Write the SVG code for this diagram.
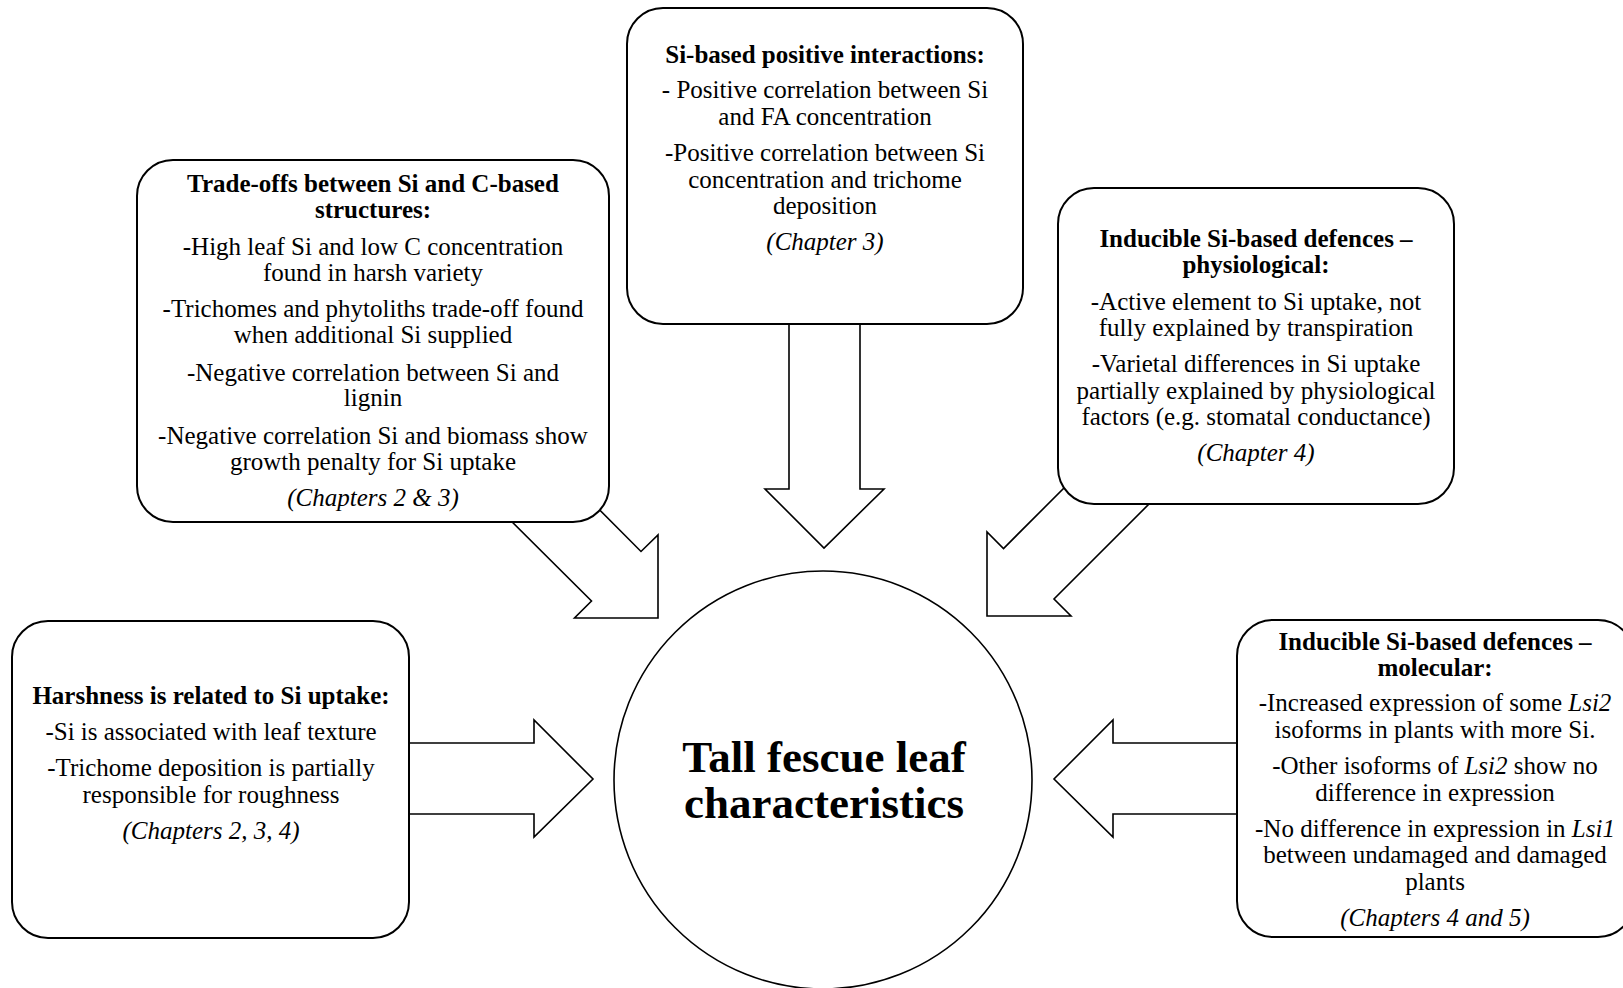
<svg xmlns="http://www.w3.org/2000/svg" width="1623" height="988" viewBox="0 0 1623 988">
<style>
.bg{fill:#fff}
.box{fill:#fff;stroke:#000;stroke-width:2}
.arr{fill:#fff;stroke:#000;stroke-width:1.6;stroke-linejoin:miter}
.circ{fill:#fff;stroke:#000;stroke-width:1.6}
text{font-family:"Liberation Serif","Times New Roman",serif;font-size:25px;fill:#000;text-anchor:middle}
.b{font-weight:bold}
.i{font-style:italic}
.big{font-size:45px;font-weight:bold}
</style>
<rect class="bg" x="0" y="0" width="1623" height="988"/>
<g id="connectors">
<polygon class="arr" points="789,300 789,489 765,489 824,548 884,489 860,489 860,300"/>
<polygon class="arr" points="495,505 591.5,601 574.5,618 658,618 658,535 641,551.5 545,455"/>
<polygon class="arr" points="1126,426 1003.5,548.5 987,532 987,616 1071,616 1054,599 1176.5,476.5"/>
<polygon class="arr" points="380,743 534,743 534,720 593,779 534,837 534,814 380,814"/>
<polygon class="arr" points="1260,743 1113,743 1113,720 1054,779 1113,837 1113,814 1260,814"/>
</g>
<g id="node-positive">
<rect class="box" x="627" y="8" width="396" height="316" rx="36" ry="36"/>
<text x="825" y="63" class="b">Si-based positive interactions:</text>
<text x="825" y="98">- Positive correlation between Si</text>
<text x="825" y="125">and FA concentration</text>
<text x="825" y="161">-Positive correlation between Si</text>
<text x="825" y="188">concentration and trichome</text>
<text x="825" y="214">deposition</text>
<text x="825" y="250" class="i">(Chapter 3)</text>
</g>
<g id="node-tradeoffs">
<rect class="box" x="137" y="160" width="472" height="362" rx="36" ry="36"/>
<text x="373" y="192" class="b">Trade-offs between Si and C-based</text>
<text x="373" y="218" class="b">structures:</text>
<text x="373" y="255">-High leaf Si and low C concentration</text>
<text x="373" y="281">found in harsh variety</text>
<text x="373" y="317">-Trichomes and phytoliths trade-off found</text>
<text x="373" y="343">when additional Si supplied</text>
<text x="373" y="381">-Negative correlation between Si and</text>
<text x="373" y="406">lignin</text>
<text x="373" y="444">-Negative correlation Si and biomass show</text>
<text x="373" y="470">growth penalty for Si uptake</text>
<text x="373" y="506" class="i">(Chapters 2 &amp; 3)</text>
</g>
<g id="node-physiological">
<rect class="box" x="1058" y="188" width="396" height="316" rx="36" ry="36"/>
<text x="1256" y="247" class="b">Inducible Si-based defences –</text>
<text x="1256" y="273" class="b">physiological:</text>
<text x="1256" y="310">-Active element to Si uptake, not</text>
<text x="1256" y="336">fully explained by transpiration</text>
<text x="1256" y="372">-Varietal differences in Si uptake</text>
<text x="1256" y="399">partially explained by physiological</text>
<text x="1256" y="425">factors (e.g. stomatal conductance)</text>
<text x="1256" y="461" class="i">(Chapter 4)</text>
</g>
<g id="node-harshness">
<rect class="box" x="12" y="621" width="397" height="317" rx="36" ry="36"/>
<text x="211" y="704" class="b">Harshness is related to Si uptake:</text>
<text x="211" y="740">-Si is associated with leaf texture</text>
<text x="211" y="776">-Trichome deposition is partially</text>
<text x="211" y="803">responsible for roughness</text>
<text x="211" y="839" class="i">(Chapters 2, 3, 4)</text>
</g>
<g id="node-molecular">
<rect class="box" x="1237" y="620" width="397" height="317" rx="36" ry="36"/>
<text x="1435" y="650" class="b">Inducible Si-based defences –</text>
<text x="1435" y="676" class="b">molecular:</text>
<text x="1435" y="711">-Increased expression of some <tspan class="i">Lsi2</tspan></text>
<text x="1435" y="738">isoforms in plants with more Si.</text>
<text x="1435" y="774">-Other isoforms of <tspan class="i">Lsi2</tspan> show no</text>
<text x="1435" y="801">difference in expression</text>
<text x="1435" y="837">-No difference in expression in <tspan class="i">Lsi1</tspan></text>
<text x="1435" y="863">between undamaged and damaged</text>
<text x="1435" y="890">plants</text>
<text x="1435" y="926" class="i">(Chapters 4 and 5)</text>
</g>
<g id="node-center">
<circle class="circ" cx="823" cy="780" r="209"/>
<text x="824" y="772" class="big">Tall fescue leaf</text>
<text x="824" y="818" class="big">characteristics</text>
</g>
</svg>
